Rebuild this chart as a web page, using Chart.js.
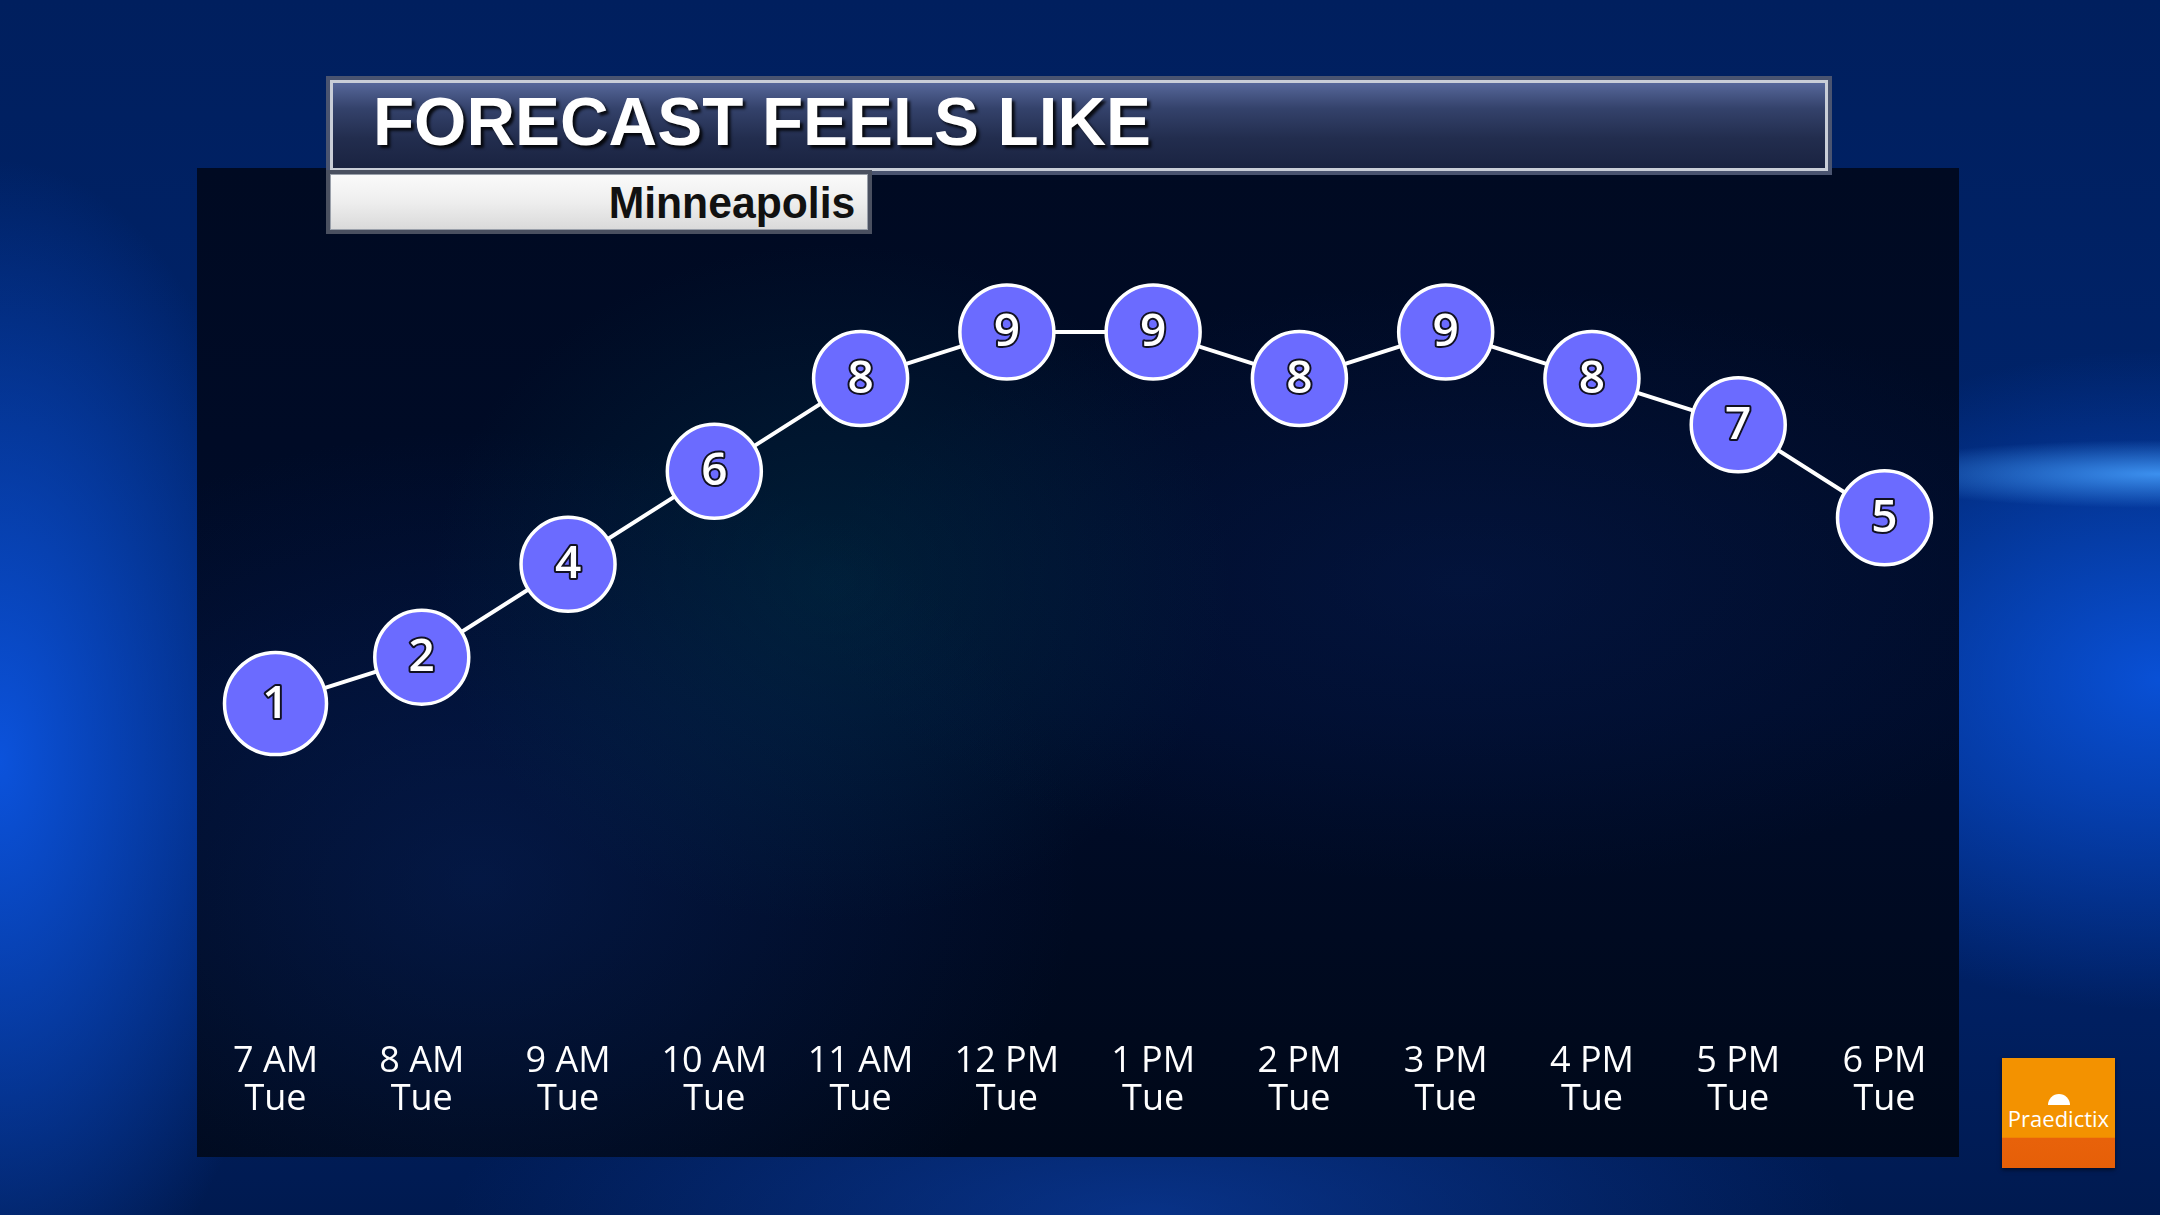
<!DOCTYPE html>
<html>
<head>
<meta charset="utf-8">
<script src="https://cdn.jsdelivr.net/npm/chart.js@4.4.1/dist/chart.umd.min.js"></script>
<style>
    html, body {
        margin: 0;
        padding: 0;
        width: 2160px;
        height: 1215px;
        overflow: hidden;
    }
    body {
        position: relative;
        background:
            radial-gradient(ellipse 300px 34px at 2160px 474px, rgba(70,160,255,0.85), rgba(70,160,255,0) 100%),
            radial-gradient(ellipse 480px 330px at 2160px 680px, rgba(10,85,225,0.9), rgba(10,85,225,0) 100%),
            radial-gradient(ellipse 300px 600px at 0px 760px, rgba(12,85,225,0.95), rgba(12,85,225,0) 100%),
            radial-gradient(ellipse 700px 200px at 1150px 1215px, rgba(15,70,180,0.55), rgba(15,70,180,0) 100%),
            linear-gradient(180deg, #001f5e 0%, #00246c 45%, #002573 65%, #001a50 100%);
    }
    .panel {
        position: absolute;
        left: 197px;
        top: 168px;
        width: 1762px;
        height: 989px;
        background:
            radial-gradient(ellipse 400px 340px at 36% 42%, rgba(0,80,95,0.28), rgba(0,80,95,0) 100%),
            radial-gradient(ellipse 600px 450px at 16% 72%, rgba(10,45,120,0.38), rgba(10,45,120,0) 100%),
            radial-gradient(ellipse 650px 300px at 72% 42%, rgba(10,40,110,0.28), rgba(10,40,110,0) 100%),
            linear-gradient(180deg, #000a22 0%, #000c2a 55%, #000818 100%);
    }
    .title-bar {
        position: absolute;
        left: 326px;
        top: 76px;
        width: 1506px;
        height: 99px;
        box-sizing: border-box;
        background: #4a5470;
        padding: 4px;
    }
    .title-inner {
        width: 100%;
        height: 100%;
        box-sizing: border-box;
        border: 3px solid #c9ced8;
        background: linear-gradient(180deg, #56679a 0%, #34426b 30%, #222d4e 65%, #1a2341 100%);
    }
    .title-text {
        position: absolute;
        left: 373px;
        top: 80px;
        font-family: "Liberation Sans", Arial, sans-serif;
        font-weight: bold;
        font-size: 68px;
        line-height: 82px;
        color: #ffffff;
        white-space: nowrap;
        text-shadow: 3px 3px 3px rgba(0,0,0,0.85);
        transform: scaleX(0.99);
        transform-origin: left center;
    }
    .sub-box {
        position: absolute;
        left: 326px;
        top: 170px;
        width: 546px;
        height: 64px;
        box-sizing: border-box;
        background: #4a5060;
        padding: 4px;
    }
    .sub-inner {
        width: 100%;
        height: 100%;
        box-sizing: border-box;
        border: 1px solid #9aa0aa;
        background: linear-gradient(180deg, #fafafa 0%, #eeeeee 50%, #dadada 100%);
    }
    .sub-text {
        position: absolute;
        right: calc(2160px - 855px);
        top: 176px;
        font-family: "Liberation Sans", Arial, sans-serif;
        font-weight: bold;
        font-size: 44px;
        line-height: 54px;
        color: #111111;
        white-space: nowrap;
        transform: scaleX(0.97);
        transform-origin: right center;
    }
    .logo {
        position: absolute;
        left: 2002px;
        top: 1058px;
        width: 113px;
        height: 110px;
        background: linear-gradient(180deg, #f39200 0%, #f39200 72%, #e8620a 73%, #e65f08 100%);
        box-shadow: 0 2px 4px rgba(0,0,0,0.5);
    }
    .logo-text {
        position: absolute;
        left: 0;
        width: 113px;
        top: 47px;
        text-align: center;
        font-family: "Open Sans", sans-serif;
        font-size: 22px;
        line-height: 26px;
        color: #ffffff;
    }
    .logo-dome {
        position: absolute;
        left: 46px;
        top: 36px;
        width: 22px;
        height: 11px;
        border-radius: 11px 11px 0 0;
        background: #ffffff;
    }
    #chartCanvas {
        position: absolute;
        left: 0;
        top: 0;
    }
</style>
</head>
<body>
<div class="panel"></div>
<div class="title-bar"><div class="title-inner"></div></div>
<div class="title-text">FORECAST FEELS LIKE</div>
<div class="sub-box"><div class="sub-inner"></div></div>
<div class="sub-text">Minneapolis</div>
<div class="logo">
    <div class="logo-dome"></div>
    <div class="logo-text">Praedictix</div>
</div>
<canvas id="chartCanvas" width="2160" height="1215"></canvas>

<script>
// Chart data
const hours = ['7 AM', '8 AM', '9 AM', '10 AM', '11 AM', '12 PM', '1 PM', '2 PM', '3 PM', '4 PM', '5 PM', '6 PM'];
const days = ['Tue', 'Tue', 'Tue', 'Tue', 'Tue', 'Tue', 'Tue', 'Tue', 'Tue', 'Tue', 'Tue', 'Tue'];
const feelsLike = [1, 2, 4, 6, 8, 9, 9, 8, 9, 8, 7, 5];

// Draw the value inside each circle
const valueLabels = {
    id: 'valueLabels',
    afterDatasetsDraw(chart) {
        const ctx = chart.ctx;
        const meta = chart.getDatasetMeta(0);
        ctx.save();
        ctx.font = '600 46px "Open Sans", sans-serif';
        ctx.textAlign = 'center';
        ctx.textBaseline = 'middle';
        ctx.lineJoin = 'round';
        meta.data.forEach((pt, i) => {
            const text = String(feelsLike[i]);
            ctx.lineWidth = 4;
            ctx.strokeStyle = '#111122';
            ctx.strokeText(text, pt.x, pt.y + 1);
            ctx.fillStyle = '#ffffff';
            ctx.fillText(text, pt.x, pt.y + 1);
        });
        ctx.restore();
    }
};

function initialize() {
    const ctx = document.getElementById('chartCanvas').getContext('2d');
    const labels = hours.map((h, i) => [h, days[i]]);
    // first circle is drawn slightly larger in the original
    const radii = feelsLike.map((v, i) => i === 0 ? 51 : 47);

    new Chart(ctx, {
        type: 'line',
        data: {
            labels: labels,
            datasets: [{
                data: feelsLike,
                borderColor: '#ffffff',
                borderWidth: 4,
                pointRadius: radii,
                pointBackgroundColor: '#6b6bff',
                pointBorderColor: '#ffffff',
                pointBorderWidth: 3.5,
                tension: 0,
                clip: false
            }]
        },
        options: {
            responsive: false,
            animation: false,
            events: [],
            layout: {
                padding: { left: 275.5, right: 275.5, top: 285.5, bottom: 82.2 }
            },
            plugins: {
                legend: { display: false },
                tooltip: { enabled: false },
                title: { display: false }
            },
            scales: {
                x: {
                    offset: false,
                    grid: { display: false, drawTicks: false },
                    border: { display: false },
                    ticks: {
                        color: '#ffffff',
                        padding: 14,
                        maxRotation: 0,
                        autoSkip: false,
                        font: { family: '"Open Sans", sans-serif', size: 36, lineHeight: '38px' }
                    }
                },
                y: {
                    display: false,
                    min: -6,
                    max: 10
                }
            }
        },
        plugins: [valueLabels]
    });
}

Promise.all([
    document.fonts.load('600 46px "Open Sans"'),
    document.fonts.load('36px "Open Sans"'),
    document.fonts.load('bold 68px "Liberation Sans"')
]).then(initialize, initialize);
</script>
</body>
</html>
